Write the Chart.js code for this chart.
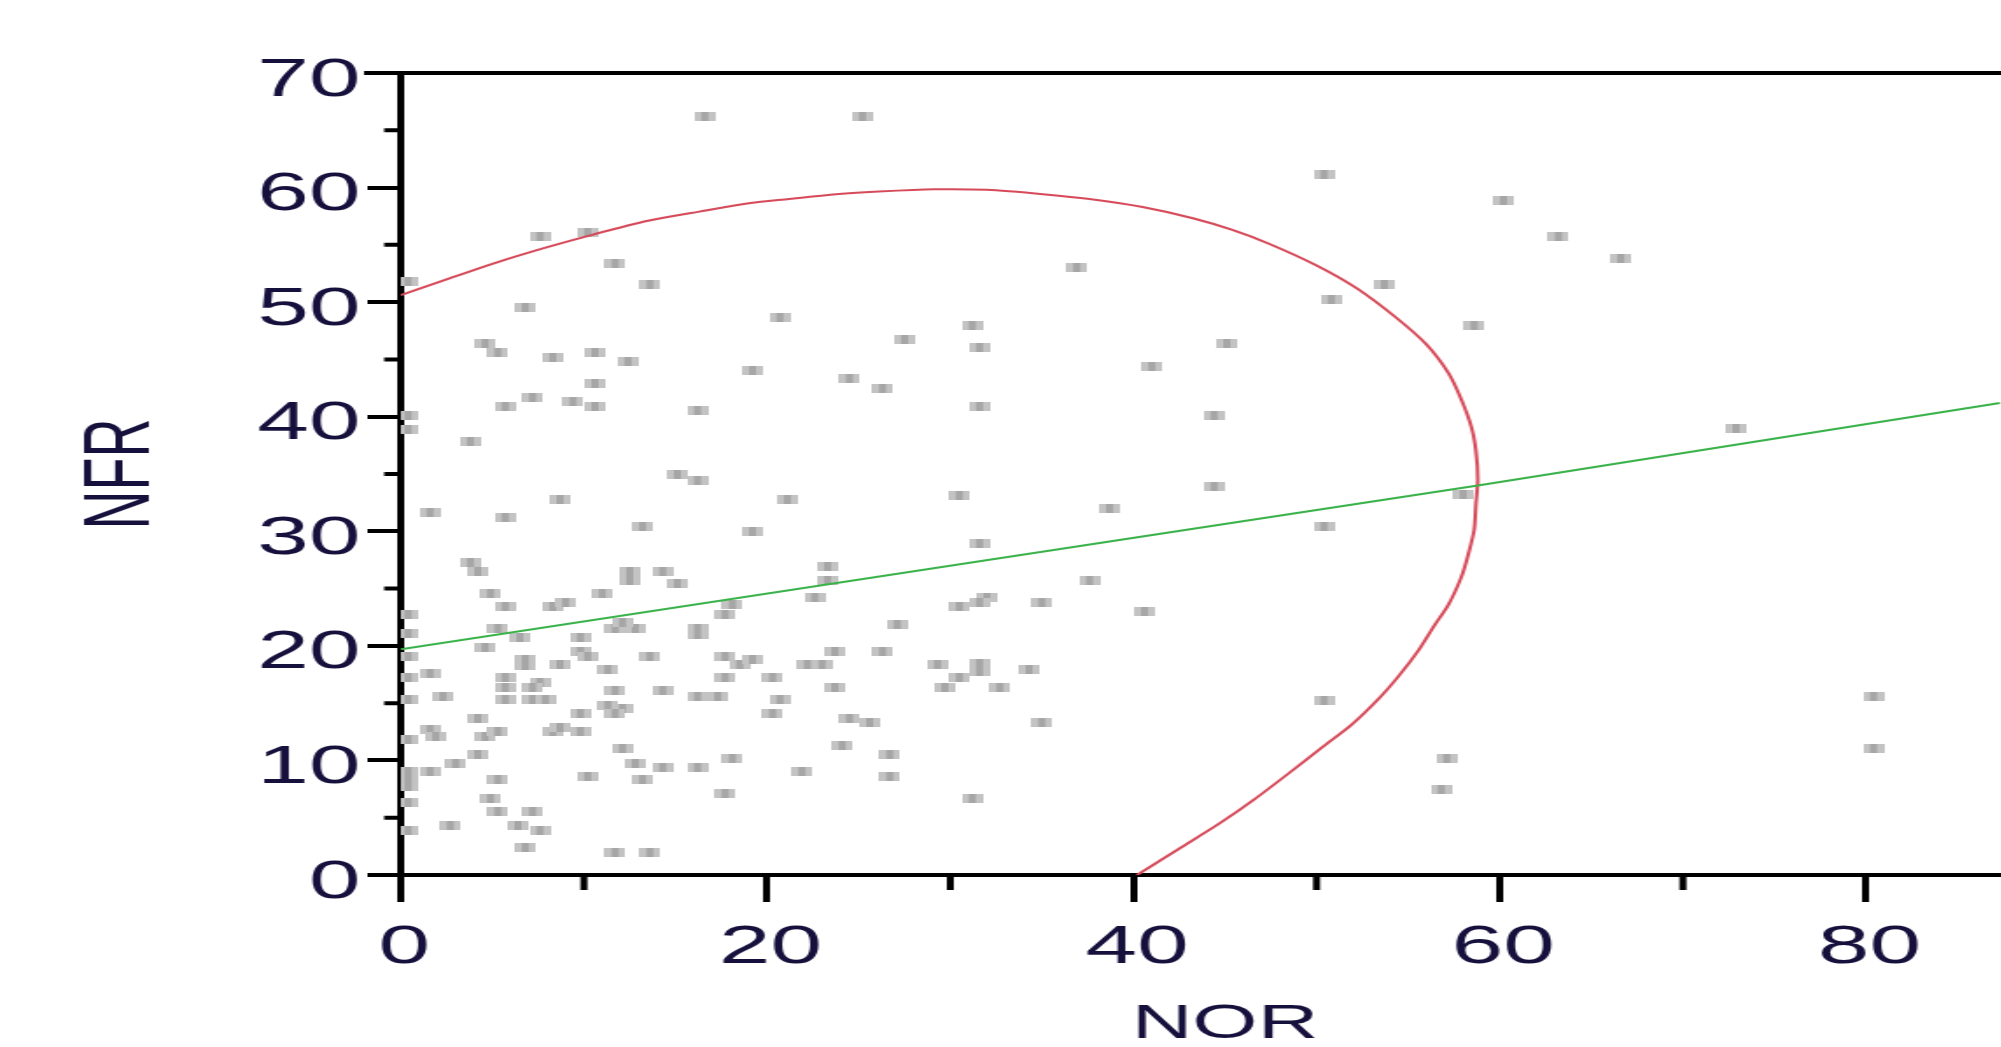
<!DOCTYPE html>
<html>
<head>
<meta charset="utf-8">
<script src="https://cdn.jsdelivr.net/npm/chart.js@4.4.1/dist/chart.umd.min.js"></script>
<style>
  html, body { margin: 0; padding: 0; background: #fff; overflow: hidden; width: 2001px; height: 1047px; }
  /* the original figure is stretched sideways, so the whole canvas is too */
  #wrap { width: 1340px; height: 1100px; transform: scaleX(1.75); transform-origin: 0 0; }
</style>
</head>
<body>
<div id="wrap"><canvas id="chart" width="1340" height="1100"></canvas></div>
<script>
// scatter points, NOR on x and NFR on y
var norValues = [
  16.6, 25.2, 7.6, 10.2, 11.7, 13.6, 0.4, 6.8, 20.7, 4.6, 5.3, 8.3, 10.6, 12.4, 19.2, 24.5, 26.3, 10.6, 7.2, 9.4,
  5.7, 10.6, 16.2, 0.4, 0.4, 3.8, 15.1, 16.2, 8.7, 1.6, 5.7, 21.1, 13.2, 19.2, 3.8, 4.2, 12.5, 12.5, 14.3, 15.1,
  23.3, 23.3, 4.9, 5.7, 11.0, 8.3, 9.0, 22.6, 17.7, 18.1, 0.4, 0.4, 5.3, 6.5, 11.7, 12.8, 12.1, 16.2, 16.2, 9.8,
  4.6, 0.4, 9.8, 10.2, 13.6, 17.7, 18.5, 19.2, 23.7, 26.3, 6.8, 6.8, 8.7, 22.2, 23.0, 1.6, 0.4, 11.3, 5.7, 5.7,
  7.6, 7.2, 17.7, 20.3, 23.7, 11.7, 14.3, 2.3, 0.4, 5.7, 7.2, 7.9, 16.2, 17.3, 20.7, 11.3, 12.1, 11.7, 9.8, 20.3,
  4.2, 24.5, 25.6, 1.6, 1.9, 0.4, 4.6, 5.3, 8.3, 8.7, 9.8, 24.1, 12.1, 4.2, 18.1, 3.0, 12.8, 14.3, 16.2, 0.4,
  1.6, 21.9, 0.4, 0.4, 5.3, 10.2, 13.2, 17.7, 4.9, 0.4, 5.3, 7.2, 2.7, 6.4, 7.6, 0.4, 6.8, 11.7, 13.6,
  50.4, 36.9, 50.8, 53.7, 31.2, 27.5, 31.6, 45.1, 41.0, 31.6, 44.4,
  44.4, 30.5, 38.7, 50.4, 31.6, 37.6, 32.0, 31.6, 30.5, 35.0, 40.6, 27.1, 29.3, 31.6, 31.6, 34.3, 30.5, 29.7, 32.7,
  50.4, 35.0, 26.7, 26.7, 31.2,
  60.2, 63.2, 66.6, 58.6, 72.9, 58.0, 80.4, 80.4, 57.1, 56.8
];
var nfrValues = [
  66.2, 66.2, 55.7, 56.1, 53.4, 51.5, 51.8, 49.5, 48.7, 46.4, 45.6, 45.2, 45.6, 44.8, 44.0, 43.3, 42.5, 42.9, 41.7, 41.3,
  40.9, 40.9, 40.5, 40.1, 38.9, 37.8, 35.0, 34.4, 32.8, 31.6, 31.2, 32.8, 30.4, 30.0, 27.3, 26.5, 26.5, 25.7, 26.5, 25.4,
  26.9, 25.7, 24.6, 23.4, 24.6, 23.4, 23.8, 24.2, 22.7, 23.6, 22.7, 21.1, 21.5, 20.7, 21.5, 21.5, 22.0, 21.5, 21.0, 20.7,
  19.9, 19.1, 19.5, 19.1, 19.1, 19.1, 18.4, 18.8, 19.5, 19.5, 18.8, 18.3, 18.4, 18.4, 18.4, 17.6, 17.2, 17.9, 17.2, 16.4,
  16.8, 16.4, 17.2, 17.2, 16.4, 16.1, 16.1, 15.6, 15.3, 15.3, 15.3, 15.3, 15.6, 15.6, 15.3, 14.8, 14.5, 14.1, 14.1, 14.1,
  13.7, 13.7, 13.3, 12.7, 12.1, 11.8, 12.1, 12.5, 12.5, 12.9, 12.5, 11.3, 11.0, 10.5, 10.2, 9.7, 9.7, 9.4, 9.4, 9.0,
  9.0, 9.0, 8.3, 7.7, 8.3, 8.6, 8.3, 7.1, 6.7, 6.3, 5.5, 5.5, 4.3, 4.3, 3.9, 3.9, 2.4, 2.0, 2.0,
  61.1, 53.0, 50.2, 51.5, 48.0, 46.7, 46.0, 46.4, 44.4, 40.9, 40.1,
  33.9, 33.1, 32.0, 30.4, 28.9, 25.7, 24.2, 23.8, 23.4, 23.8, 23.0, 21.9, 18.4, 18.5, 17.8, 17.9, 17.2, 16.4, 16.4,
  15.2, 13.3, 10.5, 8.6, 6.7,
  58.9, 55.7, 53.8, 48.0, 39.0, 33.2, 15.6, 11.0, 10.2, 7.5
];

// green regression line, read at the left edge, the crossing and the right edge
var fitNor = [0, 58.8, 87.3];
var fitNfr = [19.7, 34.0, 41.2];

// red ellipse
var ellipseNor = [0, 2.7, 5.3, 8.0, 10.5, 13.5, 16.3, 19.1, 21.2, 23.6, 26.1, 29.1, 32.0, 35.2, 37.6, 40.5, 43.3, 45.4,
  47.4, 50.0, 52.2, 54.3, 56.0, 57.2, 57.9, 58.45, 58.7, 58.8, 58.7, 58.6, 58.25, 57.9, 57.2, 56.4, 55.6, 54.5, 53.4,
  51.9, 50.35, 48.5, 46.6, 44.7, 42.6, 41.2, 40.2];
var ellipseNfr = [50.6, 52.1, 53.5, 54.8, 55.9, 57.1, 57.9, 58.65, 59.0, 59.4, 59.65, 59.85, 59.8, 59.4, 59.0, 58.3, 57.3, 56.3,
  55.1, 53.2, 51.2, 48.7, 46.3, 43.8, 41.5, 39.1, 37.0, 34.5, 32.4, 30.1, 27.8, 26.0, 23.6, 21.7, 19.7, 17.4, 15.4,
  13.1, 11.2, 8.9, 6.6, 4.5, 2.4, 1.0, 0];

// tick values
var xMajor = [0, 20, 40, 60, 80];
var xMinor = [10, 30, 50, 70, 90];
var yMajor = [0, 10, 20, 30, 40, 50, 60, 70];
var yMinor = [5, 15, 25, 35, 45, 55, 65];

var TEXT = '#16103c';
var FONT = '"Liberation Sans", Arial, sans-serif';

function pairs(xs, ys) {
  return xs.map(function(v, i) { return {x: v, y: ys[i]}; });
}

// little grey dash used as the point marker
function makeMarker() {
  var c = document.createElement('canvas');
  c.width = 12; c.height = 9;
  var g = c.getContext('2d');
  g.fillStyle = '#c3c3c3'; g.fillRect(0, 0, 12, 9);
  g.fillStyle = '#a6a6a6'; g.fillRect(4, 0, 4, 9);
  return c;
}

// top frame line and the minor ticks
var axisExtras = {
  id: 'axisExtras',
  afterDraw: function(chart) {
    var ctx = chart.ctx, a = chart.chartArea, x = chart.scales.x, y = chart.scales.y;
    ctx.save();
    ctx.strokeStyle = '#000';
    ctx.lineWidth = 4;
    ctx.beginPath();
    var top = y.getPixelForValue(yMajor[yMajor.length - 1]);
    ctx.moveTo(a.left - 21, top);
    ctx.lineTo(a.right, top);
    yMinor.forEach(function(v) {
      var p = y.getPixelForValue(v);
      ctx.moveTo(a.left - 2, p);
      ctx.lineTo(a.left - 9.5, p);
    });
    xMinor.forEach(function(v) {
      var p = x.getPixelForValue(v);
      ctx.moveTo(p, a.bottom + 2);
      ctx.lineTo(p, a.bottom + 15);
    });
    ctx.stroke();
    ctx.restore();
  }
};

new Chart(document.getElementById('chart'), {
  type: 'scatter',
  data: {
    datasets: [{
      label: 'points',
      data: pairs(norValues, nfrValues),
      pointStyle: makeMarker(),
      pointRadius: 5,
      pointHoverRadius: 5,
      order: 2
    }, {
      label: 'fit',
      data: pairs(fitNor, fitNfr),
      showLine: true,
      borderColor: 'rgb(58,178,74)',
      borderWidth: 2,
      pointRadius: 0,
      clip: 0,
      order: 1
    }, {
      label: 'ellipse',
      data: pairs(ellipseNor, ellipseNfr),
      showLine: true,
      borderColor: 'rgb(214,74,90)',
      borderWidth: 2,
      pointRadius: 0,
      tension: 0.25,
      clip: 0,
      order: 1
    }]
  },
  options: {
    responsive: false,
    animation: false,
    devicePixelRatio: 1,
    layout: { padding: { top: 73, left: 0, right: 169, bottom: 0 } },
    plugins: { legend: { display: false }, tooltip: { enabled: false } },
    scales: {
      x: {
        type: 'linear',
        min: 0,
        max: 90,
        z: 1,
        afterFit: function(s) { s.height = 225; },
        afterBuildTicks: function(s) { s.ticks = xMajor.map(function(v) { return {value: v}; }); },
        border: { display: true, color: '#000', width: 4 },
        grid: { drawOnChartArea: false, drawTicks: true, tickLength: 27, tickWidth: 4, tickColor: '#000', lineWidth: 4 },
        ticks: { autoSkip: false, maxRotation: 0, padding: 14.5, labelOffset: 2, color: TEXT, font: { family: FONT, size: 53 } },
        title: { display: true, text: 'NOR', color: TEXT, font: { family: FONT, size: 48 }, padding: { top: 0, bottom: 46 } }
      },
      y: {
        type: 'linear',
        min: 0,
        max: 70,
        z: 1,
        afterFit: function(s) { s.width = 229; },
        afterBuildTicks: function(s) { s.ticks = yMajor.map(function(v) { return {value: v}; }); },
        border: { display: true, color: '#000', width: 4 },
        grid: { drawOnChartArea: false, drawTicks: true, tickLength: 19, tickWidth: 4, tickColor: '#000', lineWidth: 4 },
        ticks: { autoSkip: false, padding: 4, labelOffset: 8, color: TEXT, font: { family: FONT, size: 53 } },
        title: { display: true, text: 'NFR', color: TEXT, font: { family: FONT, size: 54 }, padding: { top: 38, bottom: 0 } }
      }
    }
  },
  plugins: [axisExtras]
});
</script>
</body>
</html>
